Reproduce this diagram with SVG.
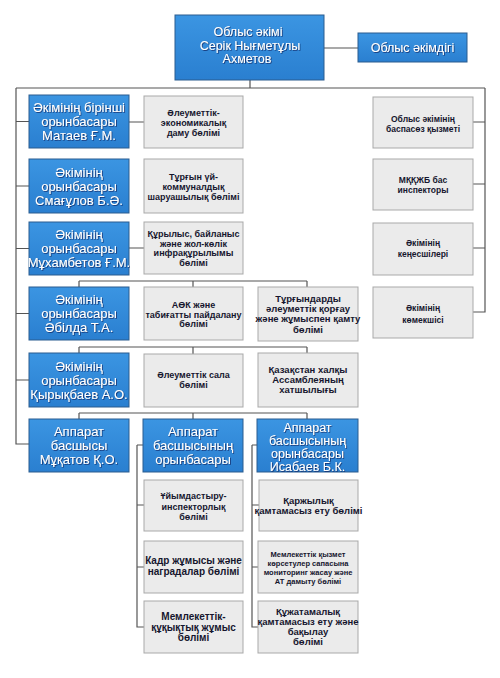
<svg xmlns="http://www.w3.org/2000/svg" width="500" height="678" viewBox="0 0 500 678">
<defs>
<linearGradient id="bg" x1="0" y1="0" x2="0" y2="1">
<stop offset="0" stop-color="#3b95e2"/>
<stop offset="1" stop-color="#2a7fd0"/>
</linearGradient>
<filter id="ts" x="-10%" y="-30%" width="120%" height="160%">
<feDropShadow dx="0.8" dy="0.8" stdDeviation="0.4" flood-color="#0d2a66" flood-opacity="0.9"/>
</filter>
</defs>
<style>
.b{fill:url(#bg);stroke:#2b5d8f;stroke-width:1}
.g{fill:#ebebeb;stroke:#a9a9a9;stroke-width:1}
.bt{font-family:"Liberation Sans",Arial,sans-serif;font-size:13px;fill:#fff;text-anchor:middle;filter:url(#ts)}
.gt{font-family:"Liberation Sans",Arial,sans-serif;font-size:9px;font-weight:bold;fill:#16162e;text-anchor:middle}
.c{fill:none;stroke:#555;stroke-width:1.2}
</style>
<rect width="500" height="678" fill="#fff"/>
<g id="connectors" class="c">
<path d="M250,80V88M16,88H485M324,48H358"/>
<path d="M16,88V444H29M16,121.5H29M16,186H29M16,248.5H29M16,313.5H29M16,380H29"/>
<path d="M485,88V312H473M473,122H485M473,184H485M473,248H485"/>
<path d="M129,122H144M129,248H144"/>
<path d="M79,281H307M79,281V287M193,281V287M307,281V287"/>
<path d="M79,347H307M79,347V353M193,347V354M307,347V353"/>
<path d="M79,413H307M79,413V419M193,413V419M307,413V419"/>
<path d="M137,445V627H144M137,445H143M137,505H144M137,567H144"/>
<path d="M252,445V627H258M252,445H257M252,505H259M252,567H258"/>
</g>
<g id="akim"><rect class="b" x="175" y="15" width="149" height="65"/>
<text class="bt" style="font-size:12.5px"><tspan x="248" y="36">Облыс әкімі</tspan><tspan x="250" y="49.5">Серік Нығметұлы</tspan><tspan x="247" y="63">Ахметов</tspan></text></g>
<g id="akimdik"><rect class="b" x="358" y="33" width="109" height="29"/>
<text class="bt" style="font-size:12.5px"><tspan x="412.5" y="52">Облыс әкімдігі</tspan></text></g>

<g id="dep1"><rect class="b" x="29" y="95" width="100" height="53"/>
<text class="bt"><tspan x="79" y="112">Әкімінің бірінші</tspan><tspan x="79" y="126">орынбасары</tspan><tspan x="79" y="140">Матаев Ғ.М.</tspan></text></g>
<g id="dep2"><rect class="b" x="29" y="159" width="100" height="54"/>
<text class="bt"><tspan x="79" y="176.5">Әкімінің</tspan><tspan x="79" y="190.5">орынбасары</tspan><tspan x="79" y="204.5">Смағұлов Б.Ә.</tspan></text></g>
<g id="dep3"><rect class="b" x="29" y="222" width="100" height="53"/>
<text class="bt"><tspan x="79" y="239">Әкімінің</tspan><tspan x="79" y="253">орынбасары</tspan><tspan x="79" y="267">Мұхамбетов Ғ.М.</tspan></text></g>
<g id="dep4"><rect class="b" x="29" y="287" width="100" height="53"/>
<text class="bt"><tspan x="79" y="304">Әкімінің</tspan><tspan x="79" y="318">орынбасары</tspan><tspan x="79" y="332">Әбілда Т.А.</tspan></text></g>
<g id="dep5"><rect class="b" x="29" y="353" width="100" height="54"/>
<text class="bt"><tspan x="79" y="370.5">Әкімінің</tspan><tspan x="79" y="384.5">орынбасары</tspan><tspan x="79" y="398.5">Қырықбаев А.О.</tspan></text></g>
<g id="head"><rect class="b" x="29" y="419" width="100" height="53"/>
<text class="bt"><tspan x="79" y="436">Аппарат</tspan><tspan x="79" y="450">басшысы</tspan><tspan x="79" y="464">Мұқатов Қ.О.</tspan></text></g>
<g id="deputyhead1"><rect class="b" x="143" y="419" width="100" height="53"/>
<text class="bt"><tspan x="193" y="436">Аппарат</tspan><tspan x="193" y="450">басшысының</tspan><tspan x="193" y="464">орынбасары</tspan></text></g>
<g id="deputyhead2"><rect class="b" x="257" y="419" width="101" height="53"/>
<text class="bt" style="font-size:12.5px"><tspan x="307.5" y="431.5">Аппарат</tspan><tspan x="307.5" y="444.5">басшысының</tspan><tspan x="307.5" y="457.5">орынбасары</tspan><tspan x="307.5" y="470.5">Исабаев Б.К.</tspan></text></g>

<g id="g1"><rect class="g" x="144" y="96" width="99" height="52"/>
<text class="gt"><tspan x="193.5" y="116">Әлеуметтік-</tspan><tspan x="193.5" y="126">экономикалық</tspan><tspan x="193.5" y="136">даму бөлімі</tspan></text></g>
<g id="g2"><rect class="g" x="144" y="159" width="99" height="54"/>
<text class="gt"><tspan x="193.5" y="179.5">Тұрғын үй-</tspan><tspan x="193.5" y="189.5">коммуналдық</tspan><tspan x="193.5" y="199.5">шаруашылық бөлімі</tspan></text></g>
<g id="g3"><rect class="g" x="144" y="222" width="99" height="52"/>
<text class="gt"><tspan x="193.5" y="237.3">Құрылыс, байланыс</tspan><tspan x="193.5" y="246.8">және жол-көлік</tspan><tspan x="193.5" y="256.3">инфрақұрылымы</tspan><tspan x="193.5" y="265.8">бөлімі</tspan></text></g>
<g id="g4"><rect class="g" x="144" y="287" width="99" height="53"/>
<text class="gt"><tspan x="193.5" y="308">АӨК және</tspan><tspan x="193.5" y="317.5">табиғатты пайдалану</tspan><tspan x="193.5" y="327">бөлімі</tspan></text></g>
<g id="g5"><rect class="g" x="144" y="354" width="99" height="53"/>
<text class="gt"><tspan x="193.5" y="378.2">Әлеуметтік сала</tspan><tspan x="193.5" y="387.8">бөлімі</tspan></text></g>
<g id="g6"><rect class="g" x="258" y="287" width="100" height="54"/>
<text class="gt" style="font-size:9.5px"><tspan x="308" y="301.6">Тұрғындарды</tspan><tspan x="308" y="312">әлеуметтік қорғау</tspan><tspan x="308" y="322.4">және жұмыспен қамту</tspan><tspan x="308" y="332.8">бөлімі</tspan></text></g>
<g id="g7"><rect class="g" x="258" y="353" width="100" height="54"/>
<text class="gt" style="font-size:9.5px"><tspan x="308" y="373.4">Қазақстан халқы</tspan><tspan x="308" y="383.4">Ассамблеяның</tspan><tspan x="308" y="393.4">хатшылығы</tspan></text></g>

<g id="r1"><rect class="g" x="373" y="97" width="100" height="51"/>
<text class="gt" style="font-size:8.5px"><tspan x="423" y="121.8">Облыс әкімінің</tspan><tspan x="423" y="131.5">баспасөз қызметі</tspan></text></g>
<g id="r2"><rect class="g" x="373" y="159" width="100" height="51"/>
<text class="gt" style="font-size:8.5px"><tspan x="423" y="182.6">МҚҚЖБ бас</tspan><tspan x="423" y="193">инспекторы</tspan></text></g>
<g id="r3"><rect class="g" x="373" y="223" width="100" height="52"/>
<text class="gt" style="font-size:8.5px"><tspan x="423" y="246">Әкімінің</tspan><tspan x="423" y="256.5">кеңесшілері</tspan></text></g>
<g id="r4"><rect class="g" x="373" y="287" width="100" height="51"/>
<text class="gt" style="font-size:8.5px"><tspan x="423" y="311">Әкімінің</tspan><tspan x="423" y="322.5">көмекшісі</tspan></text></g>

<g id="b1"><rect class="g" x="144" y="480" width="99" height="51"/>
<text class="gt"><tspan x="193.5" y="499.3">Ұйымдастыру-</tspan><tspan x="193.5" y="509.8">инспекторлық</tspan><tspan x="193.5" y="520.2">бөлімі</tspan></text></g>
<g id="b2"><rect class="g" x="144" y="541" width="99" height="52"/>
<text class="gt" style="font-size:10px"><tspan x="193.5" y="564.4">Кадр жұмысы және</tspan><tspan x="193.5" y="575.4">наградалар бөлімі</tspan></text></g>
<g id="b3"><rect class="g" x="144" y="601" width="99" height="52"/>
<text class="gt" style="font-size:10px"><tspan x="193.5" y="620">Мемлекеттік-</tspan><tspan x="193.5" y="630.8">құқықтық жұмыс</tspan><tspan x="193.5" y="641.4">бөлімі</tspan></text></g>
<g id="b4"><rect class="g" x="259" y="480" width="99" height="51"/>
<text class="gt" style="font-size:9.5px"><tspan x="308.5" y="504">Қаржылық</tspan><tspan x="308.5" y="514">қамтамасыз ету бөлімі</tspan></text></g>
<g id="b5"><rect class="g" x="258" y="541" width="100" height="52"/>
<text class="gt" style="font-size:7.5px"><tspan x="308" y="556.6">Мемлекеттік  қызмет</tspan><tspan x="308" y="565.6">көрсетулер сапасына</tspan><tspan x="308" y="574.6">мониторинг жасау және</tspan><tspan x="308" y="583.6">АТ дамыту бөлімі</tspan></text></g>
<g id="b6"><rect class="g" x="258" y="601" width="100" height="52"/>
<text class="gt" style="font-size:9.5px"><tspan x="308" y="614.5">Құжатамалық</tspan><tspan x="308" y="624.5">қамтамасыз ету және</tspan><tspan x="308" y="634.5">бақылау</tspan><tspan x="308" y="645">бөлімі</tspan></text></g>
</svg>
